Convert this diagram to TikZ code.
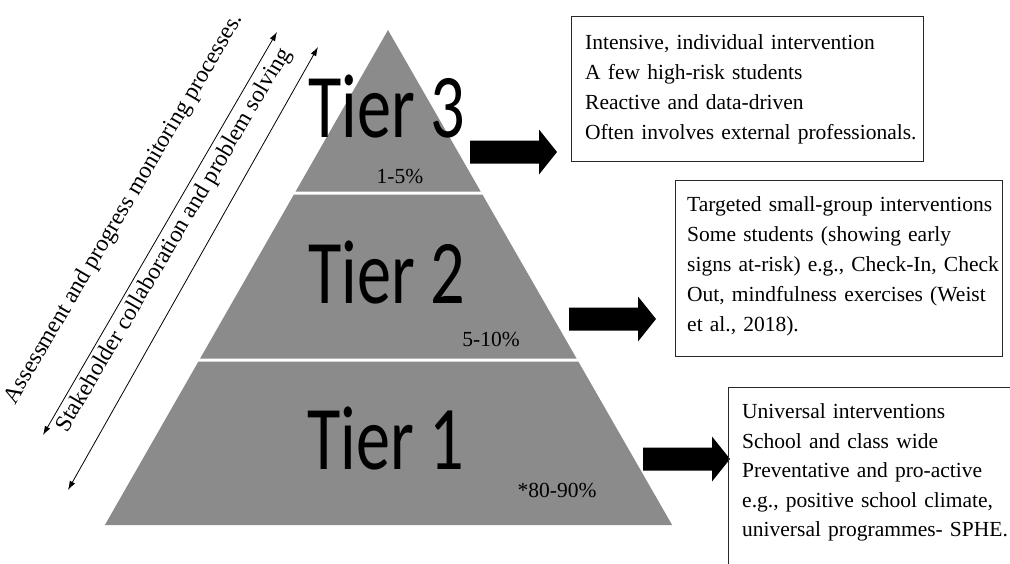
\documentclass[tikz,border=0pt]{standalone}
\usepackage{fontspec}
\setmainfont{Liberation Serif}
\newfontfamily\tierfont[FakeStretch=0.75]{Carlito}
\usetikzlibrary{arrows.meta}
\definecolor{tiergray}{RGB}{139,139,139}
\definecolor{boxline}{RGB}{40,40,40}

% thick block arrow pointing right, starting at the given coordinate (shaft centre)
\newcommand\fatarrow[1]{%
  \fill (#1) ++(0,-11.5) -- ++(69,0) -- ++(0,-11) -- ++(18,22.5)
        -- ++(-18,22.5) -- ++(0,-11) -- ++(-69,0) -- cycle;}

\begin{document}
\begin{tikzpicture}[x=1pt,y=-1pt,
  tier/.style={fill=tiergray},
  tierlabel/.style={font=\tierfont\fontsize{91}{91}\selectfont, anchor=base, inner sep=0},
  pct/.style={font=\fontsize{21.5}{24}\selectfont, anchor=base, inner sep=0},
  panel/.style={draw=boxline, line width=1pt, anchor=north west, inner sep=0},
  paneltext/.style={anchor=north west, inner sep=0, align=left, text width=440pt,
                    font=\fontsize{21.5}{30}\selectfont},
  span/.style={{Latex[length=9pt,width=6pt]}-{Latex[length=9pt,width=6pt]}, line width=0.8pt},
  spantext/.style={anchor=base, rotate=59.5, inner sep=0, font=\fontsize{23.5}{26}\selectfont},
]
\useasboundingbox (0,0) rectangle (1010,563);
\clip (0,0) rectangle (1010,563);

% pyramid bands
\fill[tier] (388,30) -- (480.7,191.5) -- (295.6,191.5) -- cycle;
\fill[tier] (293.9,194.5) -- (482.4,194.5) -- (576.6,358.5) -- (200.1,358.5) -- cycle;
\fill[tier] (198.4,361.5) -- (578.3,361.5) -- (672.1,525) -- (104.9,525) -- cycle;

% tier names and shares
\node[tierlabel] (tier3) at (387,137) {Tier 3};
\node[tierlabel] (tier2) at (387,303) {Tier 2};
\node[tierlabel] (tier1) at (386,469) {Tier 1};
\node[pct] (pct3) at (400,183) {1-5\%};
\node[pct] (pct2) at (491,346) {5-10\%};
\node[pct] (pct1) at (557,497) {*80-90\%};

% block arrows towards the description panels
\coordinate (arr3) at (470,152);
\coordinate (arr2) at (569,319);
\coordinate (arr1) at (643,459);
\fatarrow{arr3}
\fatarrow{arr2}
\fatarrow{arr1}

% description panels
\node[panel, minimum width=352, minimum height=145] (box3) at (571,16) {};
\node[paneltext] (txt3) at (585,28) {\strut Intensive, individual intervention\\
  A few high-risk students\\ Reactive and data-driven\\ Often involves external professionals.};

\node[panel, minimum width=327, minimum height=176] (box2) at (675,180) {};
\node[paneltext] (txt2) at (687,190) {\strut Targeted small-group interventions\\
  Some students (showing early\\ signs at-risk) e.g., Check-In, Check\\
  Out, mindfulness exercises (Weist\\ et al., 2018).};

\node[panel, minimum width=310, minimum height=210] (box1) at (728,387) {};
\node[paneltext, font=\fontsize{21.5}{29.5}\selectfont] (txt1) at (742,398) {\strut Universal interventions\\
  School and class wide\\ Preventative and pro-active\\ e.g., positive school climate,\\
  universal programmes- SPHE.};

% process arrows along the left flank
\coordinate (aBot) at (43,435);
\coordinate (aTop) at (277,32);
\coordinate (bBot) at (68,490);
\coordinate (bTop) at (318,47);
\draw[span] (aBot) -- (aTop);
\draw[span] (bBot) -- (bTop);
\node[spantext] (assess) at (129,212) {Assessment and progress monitoring processes.};
\node[spantext] (stake) at (179,243) {Stakeholder collaboration and problem solving};
\end{tikzpicture}
\end{document}
